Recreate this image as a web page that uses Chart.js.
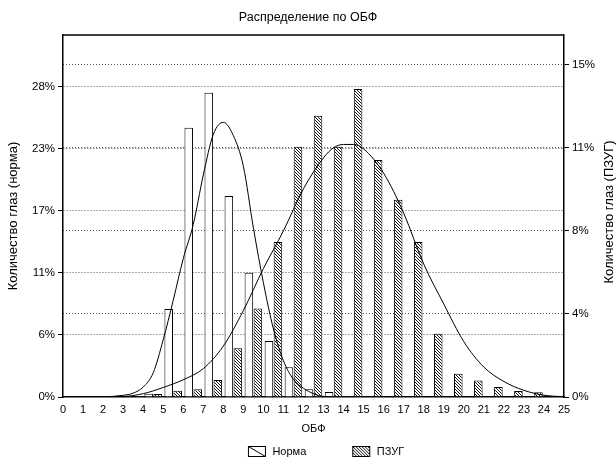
<!DOCTYPE html>
<html>
<head>
<meta charset="utf-8">
<script src="https://cdn.jsdelivr.net/npm/chart.js@4.4.1/dist/chart.umd.min.js"></script>
<style>
html,body{margin:0;padding:0;background:#fff;}
#wrap{width:616px;height:462px;}
</style>
</head>
<body>
<div id="wrap"><canvas id="c" width="616" height="462"></canvas></div>
<script>
// ---- data ----
const chartTitle = 'Распределение по ОБФ';
const xTitle = 'ОБФ';
const leftTitle = 'Количество глаз (норма)';
const rightTitle = 'Количество глаз (ПЗУГ)';
const seriesNames = ['Норма', 'ПЗУГ'];

const binStarts = [0,1,2,3,4,5,6,7,8,9,10,11,12,13,14,15,16,17,18,19,20,21,22,23,24];
const normaBars = [0,0,0,0.1,0.3,8.0,24.5,27.7,18.3,11.3,5.1,2.7,0.7,0.45,0.1,0,0,0,0,0,0,0,0,0,0];
const pzugBars  = [0,0,0,0.05,0.14,0.28,0.35,0.77,2.2,4.0,7.0,11.3,12.7,11.3,13.9,10.7,8.9,7.0,2.85,1.05,0.74,0.45,0.27,0.22,0.05];

const normaCurveX = [0,1,2,3,3.5,4,4.5,5,5.5,6,6.5,7,7.5,8,8.5,9,9.5,10,10.5,11,11.5,12,12.5,13,14,15,16,17,18,19,20,21,22,23,24,25];
const normaCurveY = [0,0,0.02,0.15,0.35,0.9,2.2,5.2,8.8,12.6,15.7,20.2,23.9,25.0,23.8,21.0,15.4,10.4,6.2,3.3,1.6,0.8,0.3,0.05,0,0,0,0,0,0,0,0,0,0,0,0];

const pzugCurveX = [0,1,2,3,4,5,6,7,8,9,10,11,12,13,13.5,14,14.5,15,16,17,18,19,20,21,22,23,24,25];
const pzugCurveY = [0,0,0,0.02,0.15,0.43,0.78,1.28,2.3,3.9,5.8,7.5,9.4,10.8,11.25,11.4,11.4,11.2,10.1,8.3,6.0,4.2,2.5,1.35,0.7,0.3,0.08,0.01];

const xTickValues = [0,1,2,3,4,5,6,7,8,9,10,11,12,13,14,15,16,17,18,19,20,21,22,23,24,25];
const xTickLabels = ['0','1','2','3','4','5','6','7','8','9','10','11','12','13','14','15','16','17','18','19','20','21','22','23','24','25'];
const leftTickValues = [0,5.65,11.3,16.95,22.6,28.25];
const leftTickLabels = ['0%','6%','11%','17%','23%','28%'];
const rightTickValues = [0,3.75,7.5,11.25,15];
const rightTickLabels = ['0%','4%','8%','11%','15%'];
const leftMax = 32.95;
const rightMax = 16.34;

// ---- styling helpers ----
const FONT = "'Liberation Sans', Arial, Helvetica, sans-serif";
Chart.defaults.font.family = FONT;
Chart.defaults.color = '#000';

const canvas = document.getElementById('c');
const ctx = canvas.getContext('2d');

function hatchTile() {
  const t = document.createElement('canvas');
  t.width = 3; t.height = 3;
  const g = t.getContext('2d');
  g.fillStyle = '#fff'; g.fillRect(0, 0, 3, 3);
  g.fillStyle = '#111';
  for (let i = 0; i < 3; i++) g.fillRect(i, i, 1, 1);
  return t;
}
const hatch = ctx.createPattern(hatchTile(), 'repeat');

function legendIcon(kind) {
  const W = 55, H = 11;
  const c = document.createElement('canvas');
  c.width = W; c.height = H;
  const g = c.getContext('2d');
  const x0 = W - 18.5, y0 = 0.5, w = 17, h = 10;
  if (kind === 'hatch') {
    g.fillStyle = g.createPattern(hatchTile(), 'repeat');
    g.fillRect(x0, y0, w, h);
  } else {
    g.fillStyle = '#fff';
    g.fillRect(x0, y0, w, h);
    g.strokeStyle = '#000'; g.lineWidth = 1;
    g.beginPath(); g.moveTo(x0, y0); g.lineTo(x0 + w, y0 + h); g.stroke();
  }
  g.strokeStyle = '#000'; g.lineWidth = 1;
  g.strokeRect(x0, y0, w, h);
  return c;
}
const iconNorma = legendIcon('plain');
const iconPzug = legendIcon('hatch');

const framePlugin = {
  id: 'frame',
  afterDraw(chart) {
    const a = chart.chartArea, g = chart.ctx;
    g.save();
    g.strokeStyle = '#000'; g.lineWidth = 1.5;
    g.beginPath();
    g.moveTo(a.left, a.top); g.lineTo(a.right, a.top);
    g.stroke();
    // right axis title, reading bottom-to-top
    g.font = '13px ' + FONT;
    g.fillStyle = '#000';
    g.textAlign = 'center'; g.textBaseline = 'middle';
    g.translate(609, 212);
    g.rotate(-Math.PI / 2);
    g.fillText(rightTitle, 0, 0);
    g.restore();
  }
};

const dotted = [1, 2];

new Chart(ctx, {
  type: 'bar',
  data: {
    datasets: [
      {
        type: 'line', label: seriesNames[0] + ' (кривая)',
        data: normaCurveX.map((x, i) => ({x, y: normaCurveY[i]})),
        borderColor: '#000', borderWidth: 1, pointRadius: 0, fill: false,
        cubicInterpolationMode: 'monotone', yAxisID: 'yL', xAxisID: 'x', order: 0
      },
      {
        type: 'line', label: seriesNames[1] + ' (кривая)',
        data: pzugCurveX.map((x, i) => ({x, y: pzugCurveY[i]})),
        borderColor: '#000', borderWidth: 1, pointRadius: 0, fill: false,
        cubicInterpolationMode: 'monotone', yAxisID: 'yR', xAxisID: 'x', order: 0
      },
      {
        type: 'bar', label: seriesNames[0],
        data: binStarts.map((b, i) => ({x: b + 0.5, y: normaBars[i]})),
        backgroundColor: '#fff', borderColor: '#000', borderWidth: 1,
        categoryPercentage: 0.9, barPercentage: 0.95,
        yAxisID: 'yL', xAxisID: 'x', order: 1
      },
      {
        type: 'bar', label: seriesNames[1],
        data: binStarts.map((b, i) => ({x: b + 0.5, y: pzugBars[i]})),
        backgroundColor: hatch, borderColor: '#000', borderWidth: 1,
        categoryPercentage: 0.9, barPercentage: 0.95,
        yAxisID: 'yR', xAxisID: 'x', order: 1
      }
    ]
  },
  options: {
    responsive: false,
    animation: false,
    devicePixelRatio: 1,
    layout: { padding: { top: 0, left: 0, right: 0, bottom: -5 } },
    plugins: {
      title: {
        display: true, text: chartTitle, color: '#000',
        font: { size: 12.5, weight: 'normal', family: FONT },
        padding: { top: 10, bottom: 10 }
      },
      legend: {
        display: true, position: 'bottom',
        onClick: () => {},
        labels: {
          usePointStyle: true, pointStyleWidth: 55, padding: 10,
          font: { size: 11, family: FONT }, color: '#000',
          generateLabels: () => [
            { text: seriesNames[0], pointStyle: iconNorma, fillStyle: '#fff', strokeStyle: '#000', lineWidth: 0, hidden: false, datasetIndex: 2, fontColor: '#000' },
            { text: seriesNames[1], pointStyle: iconPzug, fillStyle: '#fff', strokeStyle: '#000', lineWidth: 0, hidden: false, datasetIndex: 3, fontColor: '#000' }
          ]
        }
      },
      tooltip: { enabled: false }
    },
    scales: {
      x: {
        type: 'linear', position: 'bottom', min: 0, max: 25, offset: false,
        afterBuildTicks: s => { s.ticks = xTickValues.map(v => ({value: v})); },
        afterFit: s => { s.height = 39; },
        ticks: {
          autoSkip: false, maxRotation: 0, minRotation: 0, padding: 6,
          font: { size: 11, family: FONT }, color: '#000',
          callback: (v, i) => xTickLabels[i]
        },
        grid: { display: false, drawTicks: false, offset: false },
        border: { display: true, color: '#000', width: 1.5 },
        title: { display: true, text: xTitle, color: '#000', font: { size: 11, family: FONT }, padding: { top: 0, bottom: 0 } }
      },
      yL: {
        type: 'linear', position: 'left', min: 0, max: leftMax,
        afterBuildTicks: s => { s.ticks = leftTickValues.map(v => ({value: v})); },
        afterFit: s => { s.width = 63; },
        ticks: {
          padding: 3, font: { size: 11.5, family: FONT }, color: '#000',
          callback: (v, i) => leftTickLabels[i]
        },
        grid: {
          color: c => (c.tick && c.tick.value === 0) ? 'rgba(0,0,0,0)' : '#555',
          tickColor: '#000', tickLength: 5, lineWidth: 1, drawOnChartArea: true
        },
        border: { display: true, color: '#000', width: 1.5, dash: dotted },
        title: { display: true, text: leftTitle, color: '#000', font: { size: 13, family: FONT }, padding: { top: 6, bottom: 0 } }
      },
      yR: {
        type: 'linear', position: 'right', min: 0, max: rightMax,
        afterBuildTicks: s => { s.ticks = rightTickValues.map(v => ({value: v})); },
        afterFit: s => { s.width = 52; },
        ticks: {
          padding: 3, font: { size: 11.5, family: FONT }, color: '#000',
          callback: (v, i) => rightTickLabels[i]
        },
        grid: {
          color: c => (c.tick && c.tick.value === 0) ? 'rgba(0,0,0,0)' : '#555',
          tickColor: '#000', tickLength: 5, lineWidth: 1, drawOnChartArea: true
        },
        border: { display: true, color: '#000', width: 1.5, dash: dotted }
      }
    }
  },
  plugins: [framePlugin]
});
</script>
</body>
</html>
